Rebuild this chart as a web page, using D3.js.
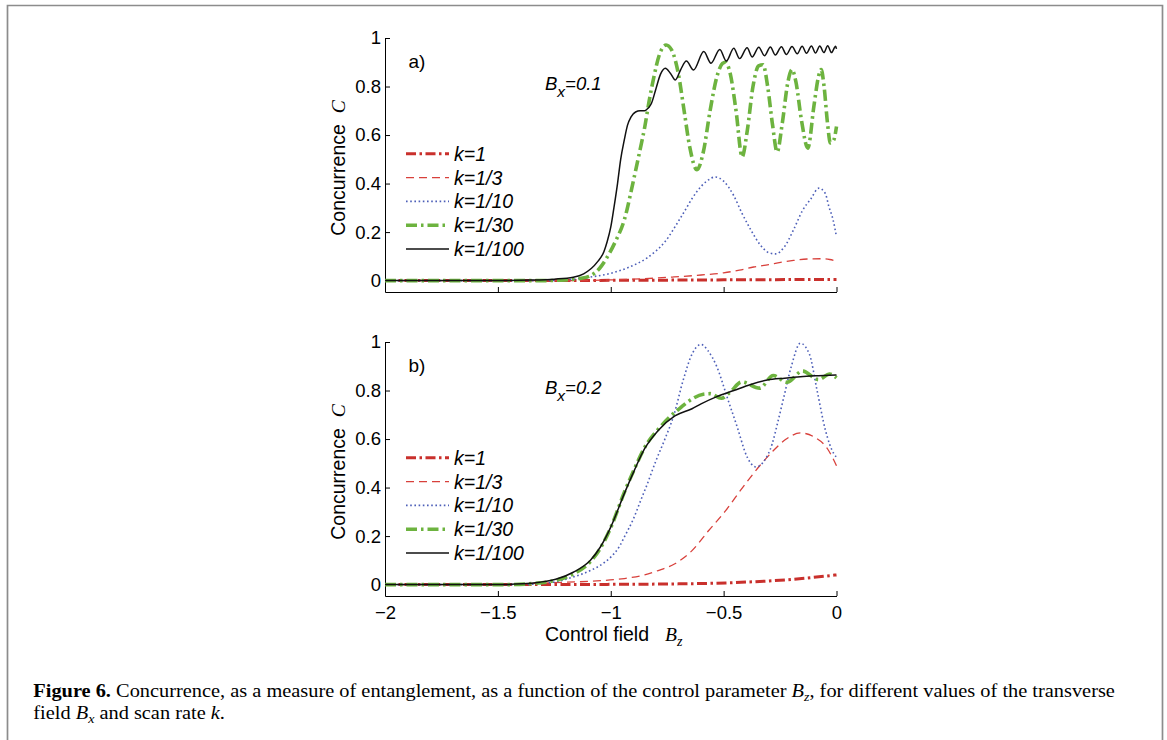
<!DOCTYPE html>
<html>
<head>
<meta charset="utf-8">
<script src="https://cdn.jsdelivr.net/npm/d3@7"></script>
<style>
  body { margin: 0; background: #fff; }
  text { font-family: "Liberation Sans", Arial, Helvetica, sans-serif; fill: #000; }
</style>
</head>
<body>
<div id="fig"></div>
<script>
// Data, points are [Bz, C]

var seriesNames = ["k=1", "k=1/3", "k=1/10", "k=1/30", "k=1/100"];
var xTicks = [-2, -1.5, -1, -0.5, 0];
var yTicks = [0, 0.2, 0.4, 0.6, 0.8, 1];

// panel a)  Bx = 0.1
var a_k1 = [[-2,0],[-1,0.001],[-0.5,0.003],[0,0.005]];
var a_k3 = [[-2,0],[-1.2,0],[-1.0,0.003],[-0.85,0.008],[-0.72,0.015],[-0.6,0.023],[-0.5,0.032],[-0.43,0.043],[-0.367,0.056],[-0.3,0.066],[-0.248,0.075],[-0.19,0.083],[-0.13,0.089],[-0.07,0.09],[-0.03,0.087],[0,0.08]];
var a_k10 = [[-2,0],[-1.3,0],[-1.2,0.003],[-1.08,0.016],[-1.0,0.03],[-0.92,0.055],[-0.84,0.093],[-0.76,0.16],[-0.69,0.26],[-0.62,0.365],[-0.575,0.41],[-0.537,0.427],[-0.5,0.41],[-0.455,0.35],[-0.42,0.28],[-0.38,0.21],[-0.34,0.15],[-0.3,0.115],[-0.27,0.11],[-0.23,0.14],[-0.19,0.21],[-0.15,0.29],[-0.115,0.335],[-0.078,0.381],[-0.05,0.36],[-0.034,0.306],[-0.015,0.25],[0,0.18]];
var a_k30 = [[-2,0],[-1.3,0],[-1.2,0.003],[-1.14,0.008],[-1.09,0.02],[-1.05,0.05],[-1.02,0.09],[-0.98,0.16],[-0.94,0.25],[-0.9,0.41],[-0.87,0.54],[-0.85,0.63],[-0.83,0.74],[-0.81,0.835],[-0.785,0.93],[-0.755,0.971],[-0.73,0.95],[-0.7,0.85],[-0.675,0.7],[-0.65,0.55],[-0.618,0.457],[-0.59,0.53],[-0.56,0.7],[-0.53,0.84],[-0.505,0.895],[-0.492,0.9],[-0.47,0.85],[-0.445,0.7],[-0.418,0.51],[-0.395,0.62],[-0.37,0.8],[-0.345,0.885],[-0.325,0.89],[-0.305,0.8],[-0.283,0.64],[-0.263,0.53],[-0.24,0.65],[-0.215,0.82],[-0.197,0.87],[-0.18,0.82],[-0.155,0.66],[-0.127,0.546],[-0.1,0.72],[-0.08,0.84],[-0.068,0.87],[-0.055,0.8],[-0.04,0.65],[-0.027,0.567],[-0.012,0.58],[0,0.635]];
var a_k100 = [[-2,0],[-1.5,0],[-1.35,0.002],[-1.25,0.006],[-1.166,0.014],[-1.12,0.028],[-1.06,0.076],[-1.03,0.12],[-1.016,0.16],[-1.0,0.22],[-0.986,0.3],[-0.97,0.4],[-0.956,0.5],[-0.94,0.58],[-0.926,0.64],[-0.91,0.675],[-0.89,0.695],[-0.87,0.7],[-0.85,0.7],[-0.835,0.71],[-0.82,0.73],[-0.8,0.79],[-0.78,0.85],[-0.758,0.875],[-0.736,0.855],[-0.714,0.827],[-0.69,0.87],[-0.665,0.905],[-0.633,0.868],[-0.588,0.944],[-0.556,0.896],[-0.517,0.953],[-0.488,0.905],[-0.455,0.958],[-0.429,0.915],[-0.396,0.96],[-0.374,0.922],[-0.344,0.962],[-0.319,0.927],[-0.293,0.963],[-0.271,0.93],[-0.244,0.964],[-0.222,0.932],[-0.197,0.965],[-0.174,0.935],[-0.152,0.966],[-0.133,0.937],[-0.111,0.967],[-0.093,0.938],[-0.074,0.967],[-0.056,0.94],[-0.039,0.968],[-0.022,0.94],[-0.004,0.966],[0,0.955]];

// panel b)  Bx = 0.2
var b_k1 = [[-2,0],[-1.2,0],[-1.0,0.001],[-0.7,0.003],[-0.49,0.007],[-0.34,0.013],[-0.19,0.022],[-0.1,0.03],[0,0.04]];
var b_k3 = [[-2,0],[-1.5,0],[-1.4,0.003],[-1.25,0.008],[-1.09,0.014],[-0.94,0.025],[-0.85,0.04],[-0.79,0.058],[-0.716,0.086],[-0.64,0.14],[-0.566,0.223],[-0.49,0.306],[-0.416,0.4],[-0.34,0.49],[-0.285,0.547],[-0.226,0.598],[-0.16,0.625],[-0.1,0.609],[-0.04,0.56],[0,0.49]];
var b_k10 = [[-2,0],[-1.4,0],[-1.3,0.005],[-1.24,0.012],[-1.17,0.03],[-1.09,0.058],[-1.03,0.09],[-1.0,0.113],[-0.96,0.16],[-0.94,0.196],[-0.9,0.27],[-0.866,0.35],[-0.84,0.41],[-0.8,0.51],[-0.76,0.6],[-0.72,0.7],[-0.68,0.84],[-0.64,0.95],[-0.6,0.99],[-0.57,0.965],[-0.53,0.898],[-0.485,0.774],[-0.44,0.65],[-0.396,0.526],[-0.357,0.485],[-0.32,0.51],[-0.285,0.58],[-0.26,0.67],[-0.233,0.774],[-0.2,0.9],[-0.16,0.995],[-0.12,0.95],[-0.086,0.8],[-0.049,0.636],[-0.012,0.54],[0,0.525]];
var b_k30 = [[-2,0],[-1.45,0],[-1.35,0.004],[-1.25,0.016],[-1.17,0.042],[-1.09,0.095],[-1.046,0.15],[-1.0,0.235],[-0.94,0.38],[-0.896,0.475],[-0.85,0.565],[-0.79,0.64],[-0.74,0.69],[-0.69,0.73],[-0.64,0.765],[-0.59,0.785],[-0.56,0.787],[-0.51,0.768],[-0.47,0.795],[-0.42,0.835],[-0.34,0.81],[-0.28,0.862],[-0.22,0.834],[-0.15,0.88],[-0.08,0.845],[-0.03,0.868],[0,0.852]];
var b_k100 = [[-2,0],[-1.5,0],[-1.39,0.003],[-1.315,0.01],[-1.24,0.023],[-1.166,0.051],[-1.09,0.1],[-1.046,0.155],[-1.0,0.237],[-0.94,0.375],[-0.896,0.47],[-0.85,0.56],[-0.79,0.635],[-0.716,0.695],[-0.64,0.725],[-0.6,0.745],[-0.53,0.775],[-0.455,0.8],[-0.38,0.825],[-0.307,0.843],[-0.23,0.851],[-0.16,0.857],[-0.08,0.861],[0,0.864]];

// line styles, same order as seriesNames
var styles = [
  {color: "#c9302c", width: 3,   dash: "10,3.5,2.5,3.5"},
  {color: "#d8403b", width: 1.3, dash: "8,5"},
  {color: "#4d5fb8", width: 1.6, dash: "1.6,2.6"},
  {color: "#6db33f", width: 3.6, dash: "11,4,2.5,4"},
  {color: "#111111", width: 1.5, dash: null}
];

var W = 1167, H = 740;

var svg = d3.select("#fig")
  .append("svg")
    .attr("width", W)
    .attr("height", H);

// grey frame round the figure (open at the bottom edge of the picture)
svg.append("path")
  .attr("d", "M7.5,745V5.5H1162.5V745")
  .attr("fill", "none")
  .attr("stroke", "#8c8c8c")
  .attr("stroke-width", 1.7);

var x = d3.scaleLinear().domain([-2, 0]).range([385, 836.5]);

function drawPanel(series, top, label, bxValue, showXLabels) {
  var y = d3.scaleLinear().domain([-0.047, 1]).range([top + 254, top]);
  var g = svg.append("g");

  // axes, ticks pointing inward like the original
  g.append("g")
    .attr("transform", "translate(385,0)")
    .call(d3.axisLeft(y).tickValues(yTicks).tickSize(-5).tickSizeOuter(0)
      .tickPadding(4).tickFormat(function(d) { return String(d); }));

  g.append("g")
    .attr("transform", "translate(0," + (top + 254) + ")")
    .call(d3.axisBottom(x).tickValues(xTicks).tickSize(-5).tickSizeOuter(0)
      .tickPadding(10).tickFormat(showXLabels ? d3.format("") : function() { return ""; }));

  g.selectAll(".domain").attr("stroke", "#000").attr("stroke-width", 1);
  g.selectAll(".tick line").attr("stroke", "#000");
  g.selectAll(".tick text").style("font-size", "18.5px").attr("fill", "#000");

  // the curves
  var line = d3.line()
    .x(function(d) { return x(d[0]); })
    .y(function(d) { return y(d[1]); })
    .curve(d3.curveMonotoneX);

  g.selectAll("path.curve")
    .data(series)
    .enter()
    .append("path")
      .attr("class", "curve")
      .attr("d", line)
      .attr("fill", "none")
      .attr("stroke", function(d, i) { return styles[i].color; })
      .attr("stroke-width", function(d, i) { return styles[i].width; })
      .attr("stroke-dasharray", function(d, i) { return styles[i].dash; });

  // legend
  var leg = g.append("g").attr("transform", "translate(0," + (top + 115.8) + ")");
  seriesNames.forEach(function(name, i) {
    var row = i * 23.8;
    leg.append("line")
      .attr("x1", 406).attr("x2", 449)
      .attr("y1", row).attr("y2", row)
      .attr("stroke", styles[i].color)
      .attr("stroke-width", styles[i].width)
      .attr("stroke-dasharray", styles[i].dash);
    leg.append("text")
      .attr("x", 454).attr("y", row)
      .attr("dy", "0.36em")
      .style("font-size", "19.5px")
      .style("font-style", "italic")
      .text(name);
  });

  // panel label and Bx
  g.append("text")
    .attr("x", 408.5).attr("y", top + 30)
    .style("font-size", "19px")
    .text(label);

  var bx = g.append("text")
    .attr("x", 545).attr("y", top + 52)
    .style("font-size", "18.5px")
    .style("font-style", "italic");
  bx.append("tspan").text("B");
  bx.append("tspan").attr("dy", 7).style("font-size", "15.5px").text("x");
  bx.append("tspan").attr("dy", -7).text("=" + bxValue);

  // y label
  var yl = g.append("text")
    .attr("transform", "translate(345," + (top + 130) + ") rotate(-90)")
    .attr("text-anchor", "middle")
    .style("font-size", "19.5px");
  yl.append("tspan").text("Concurrence\u00a0\u00a0");
  yl.append("tspan")
    .style("font-family", "'Liberation Serif', 'Times New Roman', serif")
    .style("font-style", "italic")
    .text("C");
}

drawPanel([a_k1, a_k3, a_k10, a_k30, a_k100], 38, "a)", "0.1", false);
drawPanel([b_k1, b_k3, b_k10, b_k30, b_k100], 342, "b)", "0.2", true);

// x label
var xl = svg.append("text")
  .attr("x", 545).attr("y", 641)
  .style("font-size", "19.5px");
xl.append("tspan").text("Control field");
xl.append("tspan")
  .attr("x", 665)
  .style("font-family", "'Liberation Serif', 'Times New Roman', serif")
  .style("font-style", "italic")
  .text("B");
xl.append("tspan")
  .attr("dy", 5)
  .style("font-family", "'Liberation Serif', 'Times New Roman', serif")
  .style("font-style", "italic")
  .style("font-size", "14px")
  .text("z");

// caption
var serif = "'Liberation Serif', 'Times New Roman', serif";
var cap = svg.append("g");
var c1 = cap.append("text").attr("x", 33.3).attr("y", 696.7)
  .style("font-family", serif).style("font-size", "19px");
c1.append("tspan").style("font-weight", "bold").text("Figure 6.");
c1.append("tspan").text(" Concurrence, as a measure of entanglement, as a function of the control parameter ");
c1.append("tspan").style("font-style", "italic").text("B");
c1.append("tspan").attr("dy", 4).style("font-style", "italic").style("font-size", "13px").text("z");
c1.append("tspan").attr("dy", -4).text(", for different values of the transverse");

var c2 = cap.append("text").attr("x", 33.3).attr("y", 719)
  .style("font-family", serif).style("font-size", "19px");
c2.append("tspan").text("field ");
c2.append("tspan").style("font-style", "italic").text("B");
c2.append("tspan").attr("dy", 4).style("font-style", "italic").style("font-size", "13px").text("x");
c2.append("tspan").attr("dy", -4).text(" and scan rate ");
c2.append("tspan").style("font-style", "italic").text("k");
c2.append("tspan").text(".");

// the original caption font is narrower; squeeze to the same line length
var w1 = c1.node().getComputedTextLength();
var f = 1082 / w1;
cap.attr("transform", "translate(33.3,0) scale(" + f + ",1) translate(-33.3,0)");
</script>
</body>
</html>
